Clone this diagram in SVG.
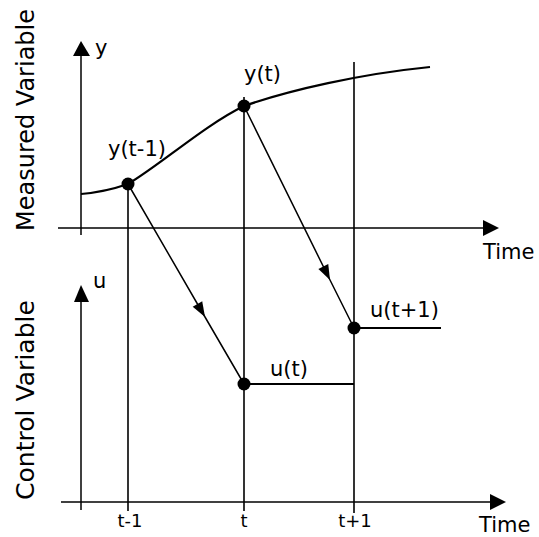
<svg xmlns="http://www.w3.org/2000/svg" width="539" height="537" viewBox="0 0 539 537">
<style>
text{font-family:"DejaVu Sans","Liberation Sans",sans-serif;fill:#000}
.lbl{font-size:21px}
.tick{font-size:18px}
.side{font-size:24px}
.ax{stroke:#000;stroke-width:1.5;fill:none}
.grid{stroke:#000;stroke-width:1.6;fill:none}
.curve{stroke:#000;stroke-width:2.2;fill:none}
.conn{stroke:#000;stroke-width:1.5;fill:none;marker-mid:url(#ah)}
.dot{fill:#000}
.head{fill:#000}
</style>
<defs>
<marker id="ah" markerUnits="userSpaceOnUse" markerWidth="20" markerHeight="20" viewBox="-16 -8 20 16" refX="0" refY="0" orient="auto">
<path d="M0,0 L-15,-5.5 L-15,5.5 Z" fill="#000"/>
</marker>
</defs>
<rect width="539" height="537" fill="#fff"/>
<g id="axes">
<line class="ax" x1="81" y1="235" x2="81" y2="54"/>
<polygon class="head" points="81,41 73,56 90,56"/>
<line class="ax" x1="58" y1="228" x2="485" y2="228"/>
<polygon class="head" points="499,228 483,220 483,236"/>
<line class="ax" x1="81" y1="510" x2="81" y2="300"/>
<polygon class="head" points="81,285 74,302 89,302"/>
<line class="ax" x1="61" y1="502" x2="492" y2="502"/>
<polygon class="head" points="506,502 490,494 490,510"/>
<line class="grid" x1="128" y1="184" x2="128" y2="511"/>
<line class="grid" x1="244" y1="97" x2="244" y2="511"/>
<line class="grid" x1="354" y1="62" x2="354" y2="513"/>
</g>
<g id="measured-curve">
<path class="curve" d="M81,194 Q105,192 128,184 C160,165 205,125 244,106 C290,90 360,74 430,67"/>
</g>
<g id="control-steps">
<line class="curve" x1="244" y1="384" x2="354" y2="384"/>
<line class="curve" x1="354" y1="328" x2="441" y2="328"/>
</g>
<g id="connectors">
<path class="conn" d="M128,184 L205,317 L244,384"/>
<path class="conn" d="M244,106 L330,280 L354,328"/>
</g>
<g id="node-y-t-1">
<circle class="dot" cx="128" cy="184" r="6.5"/>
<text class="lbl" x="108" y="156">y(t-1)</text>
</g>
<g id="node-y-t">
<circle class="dot" cx="244" cy="106" r="6.5"/>
<text class="lbl" x="244" y="81">y(t)</text>
</g>
<g id="node-u-t">
<circle class="dot" cx="244" cy="384" r="6.5"/>
<text class="lbl" x="270" y="376">u(t)</text>
</g>
<g id="node-u-t1">
<circle class="dot" cx="354" cy="328" r="6.5"/>
<text class="lbl" x="370" y="317">u(t+1)</text>
</g>
<g id="labels">
<text class="lbl" x="95" y="55">y</text>
<text class="lbl" x="93" y="288">u</text>
<text class="lbl" x="483" y="259">Time</text>
<text class="lbl" x="479" y="532">Time</text>
<text class="tick" x="130" y="527" text-anchor="middle">t-1</text>
<text class="tick" x="244" y="527" text-anchor="middle">t</text>
<text class="tick" x="355" y="527" text-anchor="middle">t+1</text>
<text class="side" transform="translate(34,231) rotate(-90)">Measured Variable</text>
<text class="side" transform="translate(34,500) rotate(-90)" textLength="200" lengthAdjust="spacingAndGlyphs">Control Variable</text>
</g>
</svg>
